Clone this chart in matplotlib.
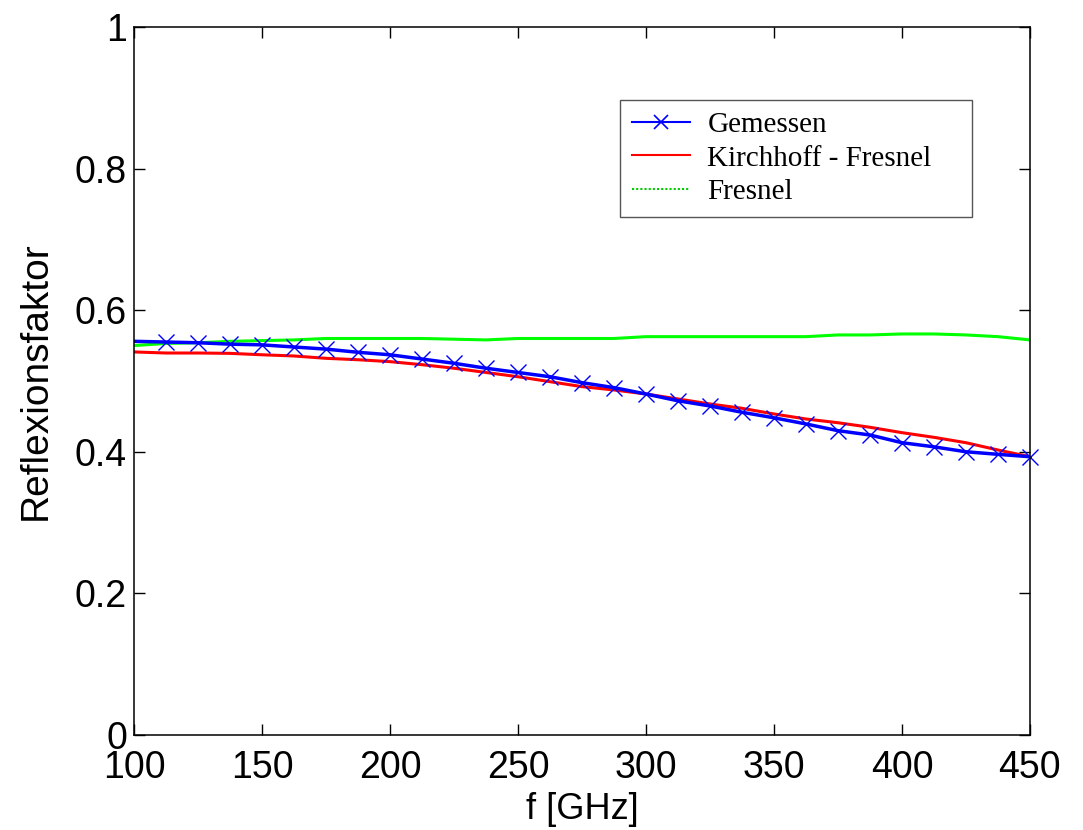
import numpy as np
import matplotlib
matplotlib.use("Agg")
import matplotlib.pyplot as plt
from matplotlib.lines import Line2D

freq = [100, 112.5, 125, 137.5, 150, 162.5, 175, 187.5, 200, 212.5, 225, 237.5, 250,
        262.5, 275, 287.5, 300, 312.5, 325, 337.5, 350, 362.5, 375, 387.5, 400,
        412.5, 425, 437.5, 450]
gemessen = [0.556, 0.555, 0.554, 0.552, 0.551, 0.548, 0.545, 0.5405, 0.537, 0.531,
            0.525, 0.518, 0.512, 0.506, 0.4976, 0.4906, 0.4816, 0.472, 0.4647,
            0.4558, 0.448, 0.4393, 0.4298, 0.4237, 0.4128, 0.407, 0.400, 0.3964, 0.393]
kirchhoff = [0.541, 0.5395, 0.5395, 0.539, 0.537, 0.5353, 0.532, 0.530, 0.5273,
             0.523, 0.518, 0.512, 0.506, 0.499, 0.492, 0.4873, 0.4816, 0.4746,
             0.4675, 0.4614, 0.4534, 0.4463, 0.441, 0.4346, 0.427, 0.4204, 0.4128,
             0.4025, 0.393]
fresnel = [0.550, 0.553, 0.554, 0.556, 0.557, 0.558, 0.560, 0.560, 0.560, 0.560,
           0.559, 0.558, 0.560, 0.560, 0.560, 0.560, 0.5626, 0.5626, 0.5626, 0.5626,
           0.5626, 0.5626, 0.565, 0.565, 0.5664, 0.5664, 0.565, 0.5626, 0.558]

labels = ["Gemessen", "Kirchhoff - Fresnel", "Fresnel"]
xticks = [100, 150, 200, 250, 300, 350, 400, 450]
yticks = [0, 0.2, 0.4, 0.6, 0.8, 1]
yticklabels = ["0", "0.2", "0.4", "0.6", "0.8", "1"]

fig = plt.figure(figsize=(10.83, 8.30), dpi=100)
ax = fig.add_axes([0.1237, 0.1145, 0.8273, 0.853])

ax.plot(freq, fresnel, color="#00ff00", lw=2.2)
ax.plot(freq, kirchhoff, color="#ff0000", lw=2.2)
ax.plot(freq, gemessen, color="#0000ff", lw=2.5)
ax.plot(freq[1:], gemessen[1:], ls="none", marker="x", color="#0000ff",
        ms=12, mew=1.0, clip_on=False)

ax.set_xlim(100, 450)
ax.set_ylim(0, 1)
ax.set_xticks(xticks)
ax.set_yticks(yticks)
ax.set_yticklabels(yticklabels)
ax.tick_params(direction="in", length=8, width=1, top=True, right=True,
               labelsize=27)
ax.tick_params(axis="x", pad=11)
ax.tick_params(axis="y", pad=5)
for lab in ax.get_xticklabels() + ax.get_yticklabels():
    lab.set_family("Liberation Sans")
for sp in ax.spines.values():
    sp.set_linewidth(1.1)

ax.set_xlabel("f [GHz]", fontsize=26, family="Liberation Sans", labelpad=4)
ax.set_ylabel("Reflexionsfaktor", fontsize=28, family="Liberation Sans", labelpad=15)

handles = [
    Line2D([], [], color="#0000ff", lw=1.5, marker="x", ms=10, mew=1.2),
    Line2D([], [], color="#ff0000", lw=1.5),
    Line2D([], [], color="#00cc00", lw=1.5, ls=(0, (1, 1))),
]
leg = ax.legend(handles, labels, loc="upper left",
                bbox_to_anchor=(0.5424, 0.55, 0.3924, 0.347), mode="expand",
                prop={"family": "Liberation Serif", "size": 21},
                fancybox=False, framealpha=1, edgecolor="#555555",
                handlelength=2.0, handletextpad=0.6, labelspacing=0.25,
                borderpad=0.4, borderaxespad=0)
leg.get_frame().set_linewidth(1.0)

fig.savefig("out.png", dpi=100)
